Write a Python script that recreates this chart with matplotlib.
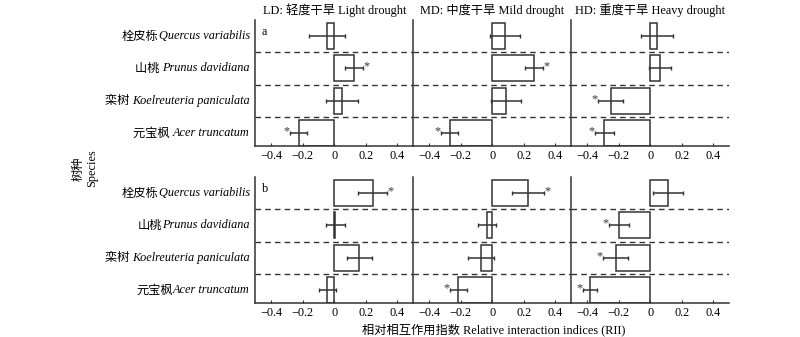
import numpy as np
import matplotlib
matplotlib.use("Agg")
from matplotlib import pyplot as plt

plt.rcParams['font.family'] = ['Liberation Serif', 'Noto Sans CJK SC']
plt.rcParams['axes.unicode_minus'] = True

species_cn = ['栓皮栎', '山桃 ', '栾树 ', '元宝枫 ']
species_la = ['Quercus variabilis', 'Prunus davidiana', 'Koelreuteria paniculata', 'Acer truncatum']
species_cn_b = ['栓皮栎', '山桃', '栾树 ', '元宝枫']
droughts = ['LD: 轻度干旱 Light drought', 'MD: 中度干旱 Mild drought', 'HD: 重度干旱 Heavy drought']
ticks = [-0.4, -0.2, 0, 0.2, 0.4]
tick_labels = ['\u22120.4', '\u22120.2', '0', '0.2', '0.4']

# panel a
rii_a = [[-0.046, 0.124, 0.051, -0.224],
         [0.080, 0.264, 0.086, -0.270],
         [0.044, 0.063, -0.251, -0.290]]
err_a = [[0.116, 0.058, 0.100, 0.055],
         [0.095, 0.057, 0.095, 0.054],
         [0.100, 0.068, 0.080, 0.061]]
sig_a = [[0, 1, 0, 1],
         [0, 1, 0, 1],
         [0, 0, 1, 1]]

# panel b
rii_b = [[0.243, 0.006, 0.158, -0.044],
         [0.226, -0.034, -0.070, -0.215],
         [0.114, -0.198, -0.219, -0.382]]
err_b = [[0.090, 0.060, 0.079, 0.054],
         [0.100, 0.057, 0.081, 0.055],
         [0.094, 0.065, 0.080, 0.044]]
sig_b = [[1, 0, 0, 0],
         [1, 0, 0, 1],
         [0, 1, 1, 1]]

col = '#333333'
fs = 8.8
fig = plt.figure(figsize=(8, 3.37), dpi=100)

left, width = 0.319, 0.1975
rows = [(0.567, 0.374), (0.101, 0.374)]
data = [(rii_a, err_a, sig_a, species_cn, 'a'), (rii_b, err_b, sig_b, species_cn_b, 'b')]

for r, (bottom, height) in enumerate(rows):
    rii, err, sig, cn, letter = data[r]
    for c in range(3):
        ax = fig.add_axes([left + c * width, bottom, width, height])
        y = np.arange(4)
        ax.barh(y, rii[c], height=0.8, color='white', edgecolor=col, linewidth=1.1)
        ax.errorbar(rii[c], y, xerr=err[c], fmt='none', ecolor=col, elinewidth=1.1,
                    capsize=1.5, capthick=1.0)
        for i in range(4):
            if sig[c][i]:
                v = rii[c][i]
                if v > 0:
                    ax.text(v + err[c][i] + 0.002, y[i] - 0.05, '*', ha='left', va='center',
                            fontsize=fs, color=col)
                else:
                    ax.text(v - err[c][i] - 0.002, y[i] - 0.05, '*', ha='right', va='center',
                            fontsize=fs, color=col)
        for yl in [0.5, 1.5, 2.5]:
            ax.axhline(yl, color=col, linestyle=(0, (4, 3)), linewidth=1.0)
        ax.set_xlim(-0.5, 0.5)
        ax.set_ylim(3.4, -0.5)
        ax.set_xticks(ticks)
        ax.set_xticklabels(tick_labels, fontsize=fs)
        ax.set_yticks([])
        ax.spines['top'].set_visible(False)
        ax.spines['right'].set_visible(False)
        ax.spines['left'].set_color(col)
        ax.spines['bottom'].set_color(col)
        ax.spines['left'].set_linewidth(1.1)
        ax.spines['bottom'].set_linewidth(1.1)
        ax.tick_params(axis='x', direction='in', length=2.5, color=col, pad=3)
        if r == 0:
            ax.set_title(droughts[c], fontsize=fs, pad=4)
        if c == 0:
            ax.text(0.04, 0.95, letter, transform=ax.transAxes, fontsize=fs, va='top')
            for i in range(4):
                la = ax.annotate(species_la[i], xy=(0, y[i]), xycoords=('axes fraction', 'data'),
                                 xytext=(-4, 0), textcoords='offset points',
                                 ha='right', va='center', fontsize=fs, style='italic')
                ax.annotate(cn[i], xy=(0, 0.5), xycoords=la, ha='right', va='center',
                            fontsize=fs, family=['Noto Sans CJK SC'])

fig.text(0.107, 0.50, '树种\nSpecies', rotation=90, ha='center', va='center',
         fontsize=fs, multialignment='center')
fig.text(0.617, 0.022, '相对相互作用指数 Relative interaction indices (RII)', ha='center',
         va='center', fontsize=fs)

fig.savefig('out.png', dpi=100)
